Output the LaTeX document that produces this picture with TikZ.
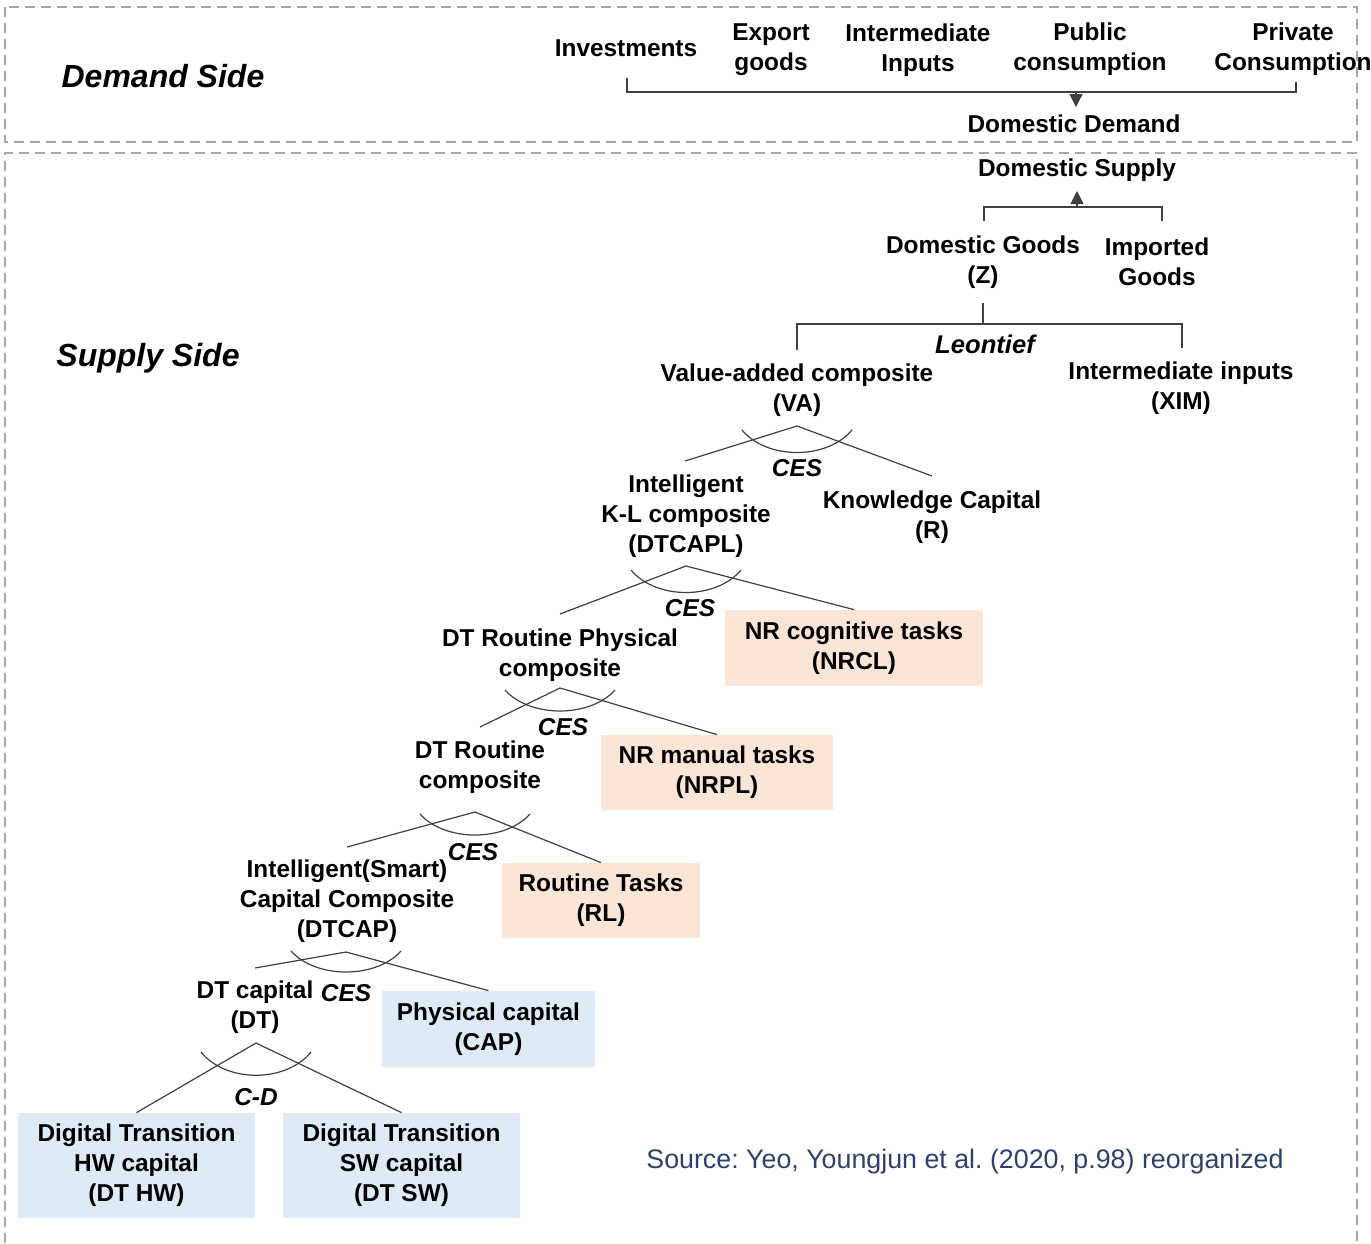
\documentclass[tikz,border=0pt]{standalone}
\usepackage{fontspec}
\setmainfont{Liberation Sans}
\usetikzlibrary{arrows.meta,calc}
\definecolor{peachc}{HTML}{FBE5D6}
\definecolor{bluec}{HTML}{DEEBF7}
\definecolor{srcc}{HTML}{2F3F6E}
\definecolor{dashc}{HTML}{A6A6A6}
\definecolor{linec}{HTML}{404040}
% #1 apex, #2 end drop, #3 control drop
\newcommand\cesarc[3]{\draw[conn] ($(#1)+(-55,#2)$) .. controls ($(#1)+(-30,#3)$) and ($(#1)+(30,#3)$) .. ($(#1)+(55,#2)$);}
\begin{document}
\frenchspacing
\begin{tikzpicture}[x=0.5pt,y=-0.5pt,
  lbl/.style={font=\fontsize{12.2}{15}\selectfont\bfseries, align=center, inner sep=1pt},
  txt/.style={lbl, yshift=-1pt},
  side/.style={font=\fontsize{16}{19}\selectfont\bfseries\itshape, inner sep=1pt},
  fn/.style={font=\fontsize{12.2}{15}\selectfont\bfseries\itshape, inner sep=1pt},
  pbox/.style={lbl, fill=peachc},
  bbox/.style={lbl, fill=bluec},
  conn/.style={draw=linec, line width=0.6pt},
  frame/.style={draw=dashc, line width=0.9pt, dash pattern=on 5pt off 3pt},
  tip/.style={conn, -{Triangle[length=6.5pt,width=6.5pt]}}
]
\useasboundingbox (0,0) rectangle (1371,1243);
% frames
\draw[frame] (5,7) rectangle (1357,142);
\draw[frame] (5,1243) -- (5,153) -- (1357,153) -- (1357,1243);

% demand side
\node[side] (dside) at (163,76) {Demand Side};
\node[txt] (inv) at (626,46) {Investments};
\node[txt] (exp) at (771,48) {Export\\goods};
\node[txt] (int) at (918,48) {Intermediate\\Inputs};
\node[txt] (pub) at (1090,47) {Public\\consumption};
\node[txt] (priv) at (1293,47) {Private\\Consumption};
\node[txt] (dd) at (1074,122) {Domestic Demand};
\coordinate (bl) at (627,78);
\coordinate (br) at (1296,82);
\coordinate (bm) at (1076,92);
\coordinate (ddtip) at (1076,107);
\draw[conn] (bl) |- (bm) -| (br);
\draw[tip] (bm) -- (ddtip);

% supply side
\node[side] (sside) at (148,358) {Supply Side};
\node[txt] (ds) at (1077,168) {Domestic Supply};
\coordinate (sm) at (1077,207);
\coordinate (dstip) at (1077,191);
\coordinate (zl) at (984,221);
\coordinate (ir) at (1162,221);
\draw[conn] (zl) |- (sm) -| (ir);
\draw[tip] (sm) -- (dstip);
\node[txt] (z) at (983,260) {Domestic Goods\\(Z)};
\node[txt] (imp) at (1157,260) {Imported\\Goods};
\coordinate (zb) at (983,303);
\coordinate (zm) at (983,324);
\coordinate (vat) at (797,350);
\coordinate (ximt) at (1182,348);
\draw[conn] (zb) -- (zm);
\draw[conn] (vat) |- (zm) -| (ximt);
\node[fn, font=\fontsize{12.8}{15}\selectfont\bfseries\itshape] (leon) at (985,344) {Leontief};
\node[txt] (va) at (797,388) {Value-added composite\\(VA)};
\node[txt] (xim) at (1181,386) {Intermediate inputs\\(XIM)};

% level nodes
\node[txt] (kl) at (686,514) {Intelligent\\K-L composite\\(DTCAPL)};
\node[txt] (r) at (932,515) {Knowledge Capital\\(R)};
\node[txt] (rpc) at (560,653) {DT Routine Physical\\composite};
\node[pbox, minimum width=129pt, minimum height=38pt] (nrcl) at (854,648) {NR cognitive tasks\\(NRCL)};
\node[txt] (rc) at (480,765) {DT Routine\\composite};
\node[pbox, minimum width=116pt, minimum height=37.5pt] (nrpl) at (717,772.5) {NR manual tasks\\(NRPL)};
\node[txt] (dtcap) at (347,899) {Intelligent(Smart)\\Capital Composite\\(DTCAP)};
\node[pbox, minimum width=99pt, minimum height=37.5pt] (rl) at (601,900.5) {Routine Tasks\\(RL)};
\node[txt] (dt) at (255,1005) {DT capital\\(DT)};
\node[bbox, minimum width=106.5pt, minimum height=38pt] (cap) at (488.5,1029) {Physical capital\\(CAP)};
\node[bbox, minimum width=118.5pt, minimum height=52.5pt] (hw) at (136.5,1165.5) {Digital Transition\\HW capital\\(DT HW)};
\node[bbox, minimum width=118.5pt, minimum height=52.5pt] (sw) at (401.5,1165.5) {Digital Transition\\SW capital\\(DT SW)};

% junctions
\coordinate (j1) at (797,426);
\coordinate (j1l) at (685,461);
\coordinate (j1r) at (932,476);
\draw[conn] (j1l) -- (j1) -- (j1r);
\cesarc{j1}{4}{34}
\node[fn] (ces1) at (797,468) {CES};

\coordinate (j2) at (686,566);
\coordinate (j2l) at (560,614);
\draw[conn] (j2l) -- (j2) -- (nrcl.north);
\cesarc{j2}{4}{34}
\node[fn] (ces2) at (690,608) {CES};

\coordinate (j3) at (560,688);
\coordinate (j3l) at (480,727);
\draw[conn] (j3l) -- (j3) -- (nrpl.north);
\cesarc{j3}{2}{30}
\node[fn] (ces3) at (563,727) {CES};

\coordinate (j4) at (475,812);
\coordinate (j4l) at (347,847);
\draw[conn] (j4l) -- (j4) -- (rl.north);
\cesarc{j4}{2}{30}
\node[fn] (ces4) at (473,852) {CES};

\coordinate (j5) at (346,952);
\coordinate (j5l) at (255,968);
\draw[conn] (j5l) -- (j5) -- (cap.north);
\cesarc{j5}{-1}{27}
\node[fn] (ces5) at (346,993) {CES};

\coordinate (j6) at (256,1043);
\draw[conn] (hw.north) -- (j6) -- (sw.north);
\cesarc{j6}{9}{40}
\node[fn] (cd) at (256,1097) {C-D};

% source
\node[font=\fontsize{13.4}{16}\selectfont, text=srcc, inner sep=1pt] (src) at (965,1162) {Source: Yeo, Youngjun et al. (2020, p.98) reorganized};
\end{tikzpicture}
\end{document}
